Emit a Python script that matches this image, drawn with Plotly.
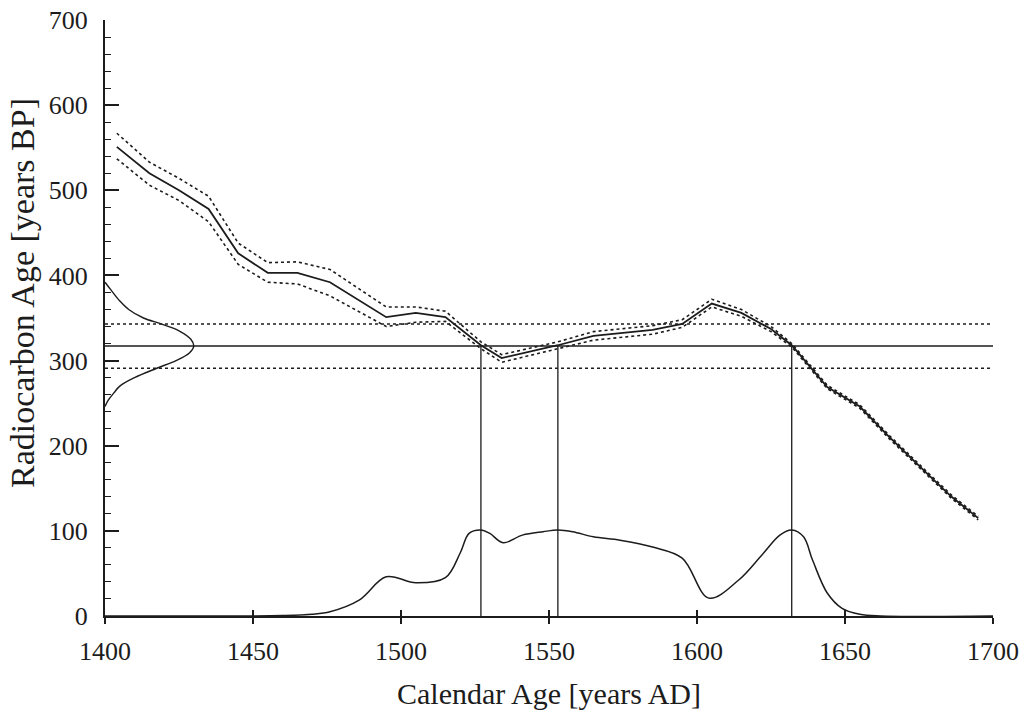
import plotly.graph_objects as go

# Calibration curve (calendar years AD -> radiocarbon age BP)
cal_years = [1404, 1415, 1425, 1435, 1445, 1455, 1465, 1476, 1495, 1505, 1515, 1527, 1534,
             1553, 1565, 1585, 1595, 1605, 1615, 1625, 1632, 1644, 1655, 1665, 1679, 1686, 1695]
cal_mid = [551, 520, 500, 478, 426, 403, 403, 392, 351, 356, 351, 318, 303,
           318, 329, 336, 343, 367, 356, 337, 318, 269, 246, 210, 163, 140, 115]
cal_upper = [567, 533, 514, 493, 438, 415, 416, 407, 363, 363, 358, 322, 307,
             322, 334, 341, 348, 372, 360, 340, 320, 271, 248, 212, 165, 142, 117]
cal_lower = [537, 506, 488, 463, 413, 392, 390, 376, 340, 345, 346, 314, 298,
             314, 324, 331, 339, 363, 352, 334, 316, 267, 244, 208, 161, 138, 113]

# Measured radiocarbon age and 1-sigma band
c14_age = 317
c14_upper = 343
c14_lower = 291

# Measurement distribution drawn along the y axis (offset in years from 1400)
gauss_age = [392, 383, 370, 360, 350, 343, 335, 325, 317, 309, 300, 291, 280, 270, 262, 253, 246]
gauss_width = [0, 2, 5, 8, 13, 19, 25, 29, 30, 28.5, 24, 17.5, 10, 5, 3, 1, 0]

# Calibrated probability distribution
dist_years = [1400, 1440, 1460, 1470, 1476, 1486, 1495, 1505, 1515, 1520, 1523, 1527, 1530,
              1534.5, 1541, 1548, 1553, 1558, 1565, 1574, 1585, 1595, 1604, 1614, 1622,
              1628, 1632, 1636, 1639, 1644, 1649, 1655, 1662, 1700]
dist_vals = [0, 0, 0.5, 2, 5, 19, 46, 39, 45, 74, 97, 101, 97,
             86, 95, 99, 101, 99, 93, 89, 81, 68, 21, 42, 72,
             95, 101, 93, 66, 27, 9, 2, 0, 0]

# Intercepts of measured age with calibration curve
intercepts = [1527, 1553, 1632]

x_min, x_max = 1400, 1700
x_ticks = [1400, 1450, 1500, 1550, 1600, 1650, 1700]
y_ticks = [0, 100, 200, 300, 400, 500, 600, 700]

ink = "#1c1c1c"
fig = go.Figure()

def line(x, y, width=1.5, dash="solid", shape="linear"):
    fig.add_trace(go.Scatter(x=x, y=y, mode="lines", showlegend=False, hoverinfo="skip",
                             line=dict(color=ink, width=width, dash=dash, shape=shape)))

# horizontal measurement lines
line([x_min, x_max], [c14_upper, c14_upper], 1.4, "dot")
line([x_min, x_max], [c14_lower, c14_lower], 1.4, "dot")
line([x_min, x_max], [c14_age, c14_age], 1.5)

# vertical intercept lines
for yr in intercepts:
    line([yr, yr], [0, c14_age], 1.3)

# calibration curve
line(cal_years, cal_upper, 1.6, "dot")
line(cal_years, cal_lower, 1.6, "dot")
line(cal_years, cal_mid, 1.8)

# gaussian on y axis
line([x_min + w for w in gauss_width], gauss_age, 1.4, shape="spline")

# calibrated distribution
line(dist_years, dist_vals, 1.5, shape="spline")

# dummy trace on overlay axis for inside tick marks
fig.add_trace(go.Scatter(x=[x_min], y=[0], xaxis="x2", mode="markers",
                         marker=dict(opacity=0), showlegend=False, hoverinfo="skip"))

serif = "Liberation Serif, Times New Roman, serif"
tick_font = dict(family=serif, size=26, color=ink)
xtitle_font = dict(family=serif, size=30, color=ink)
ytitle_font = dict(family=serif, size=34, color=ink)

fig.update_layout(
    width=1021, height=711,
    margin=dict(l=105, r=28, t=20, b=95),
    paper_bgcolor="white", plot_bgcolor="white",
    font=tick_font,
    xaxis=dict(range=[x_min, x_max], tickvals=x_ticks, ticktext=[str(v) for v in x_ticks],
               ticks="outside", ticklen=6, tickwidth=1.5, tickcolor=ink, tickfont=tick_font,
               showline=True, linecolor=ink, linewidth=2, showgrid=False, zeroline=False,
               ticklabelstandoff=5, automargin=False,
               title=dict(text="Calendar Age [years AD]", standoff=18, font=xtitle_font)),
    xaxis2=dict(range=[x_min, x_max], overlaying="x", anchor="y", side="bottom",
                tickvals=x_ticks, ticks="inside", ticklen=6, tickwidth=1.5, tickcolor=ink,
                showticklabels=False, showgrid=False, zeroline=False, showline=False,
                automargin=False),
    yaxis=dict(range=[0, 700], tickvals=y_ticks, ticktext=[str(v) for v in y_ticks],
               ticks="inside", ticklen=14, tickwidth=1.5, tickcolor=ink, tickfont=tick_font,
               minor=dict(dtick=20, ticks="inside", ticklen=6, tickwidth=1.3, tickcolor=ink, showgrid=False),
               showline=True, linecolor=ink, linewidth=2, showgrid=False, zeroline=False,
               ticklabelstandoff=10, automargin=False),
    annotations=[dict(text="Radiocarbon Age [years BP]", textangle=-90, showarrow=False,
                      xref="paper", yref="paper", x=0, y=0.542, xanchor="center", yanchor="middle",
                      xshift=-82, font=ytitle_font)],
)

fig.write_html("out.html", config={"displayModeBar": False},
               post_script="document.body.style.margin='0';document.body.style.overflow='hidden';")
